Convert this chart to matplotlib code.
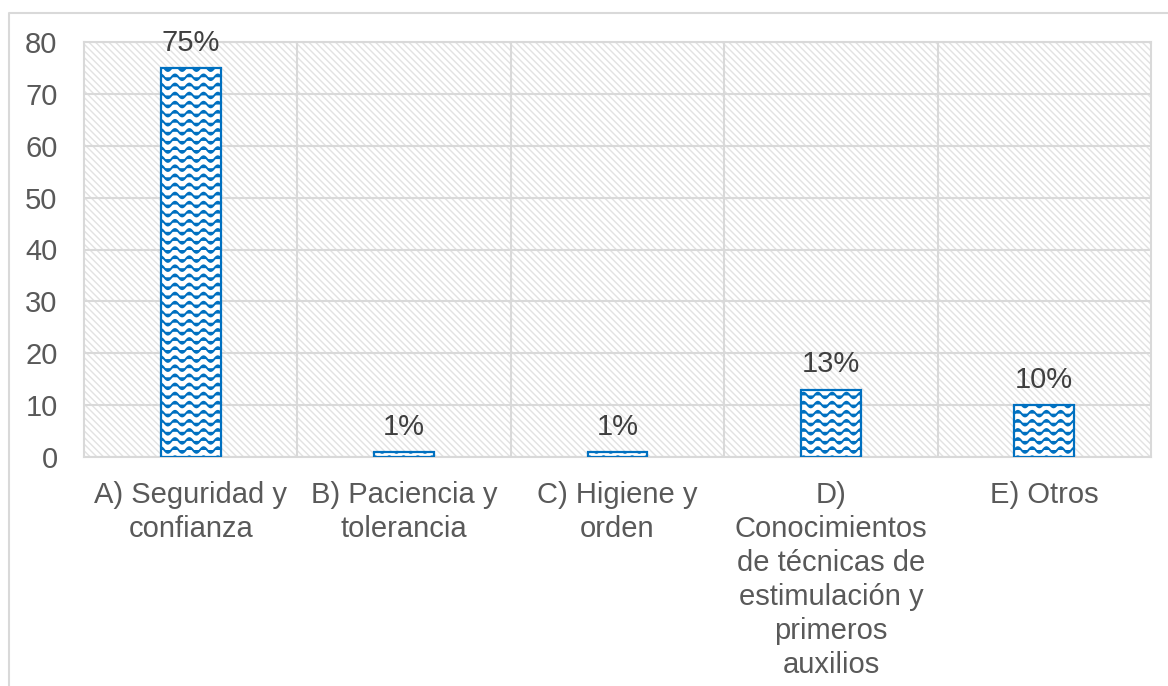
import warnings
import numpy as np
import matplotlib
matplotlib.use('Agg')
import matplotlib.pyplot as plt
import matplotlib.hatch as mhatch
from matplotlib.path import Path
from matplotlib.lines import Line2D

warnings.filterwarnings('ignore')

# data
categories = ['A) Seguridad y\nconfianza',
              'B) Paciencia y\ntolerancia',
              'C) Higiene y\norden',
              'D)\nConocimientos\nde técnicas de\nestimulación y\nprimeros\nauxilios',
              'E) Otros']
values = [75, 1, 1, 13, 10]
value_labels = ['75%', '1%', '1%', '13%', '10%']
y_ticks = [0, 10, 20, 30, 40, 50, 60, 70, 80]


# wavy hatch ('~') for the bars, rows of small sine waves
class WaveHatch(mhatch.HatchPatternBase):
    def __init__(self, hatch, density):
        self.num_rows = hatch.count('~') * 11
        self.num_waves = 7
        self.num_pts = self.num_waves * 16 + 1
        self.num_vertices = self.num_rows * self.num_pts

    def set_vertices_and_codes(self, vertices, codes):
        x = np.linspace(0.0, 1.0, self.num_pts)
        wave = 0.028 * np.sin(2 * np.pi * self.num_waves * x)
        for i in range(self.num_rows):
            start = i * self.num_pts
            seg = slice(start, start + self.num_pts)
            vertices[seg, 0] = x
            vertices[seg, 1] = (i + 0.5) / self.num_rows + wave
            codes[seg] = Path.LINETO
            codes[start] = Path.MOVETO


mhatch._hatch_types.append(WaveHatch)

plt.rcParams['font.family'] = ['Liberation Sans', 'DejaVu Sans']
plt.rcParams['hatch.linewidth'] = 1.0

grid_col = '#d9d9d9'
stripe_col = '#e2e2e2'
blue = '#0070c0'
fs = 21

fig = plt.figure(figsize=(11.68, 6.86), dpi=100)
ax = fig.add_axes([84 / 1168, 1 - 457 / 686, (1151 - 84) / 1168, (457 - 42) / 686])

# striped background of the plot area
ax.patch.set_facecolor('white')
ax.patch.set_edgecolor(stripe_col)
ax.patch.set_linewidth(0)
ax.patch.set_hatch('\\\\\\\\\\')

x = np.arange(len(categories))
bars = ax.bar(x, values, width=0.28, color='white', edgecolor=blue,
              linewidth=1.6, hatch='~', zorder=3)
for b in bars:
    if hasattr(b, 'set_hatch_linewidth'):
        b.set_hatch_linewidth(1.4)

for xi, v, lab in zip(x, values, value_labels):
    ax.annotate(lab, (xi, v), xytext=(0, 8), textcoords='offset points',
                ha='center', va='bottom', fontsize=fs, color='#404040')

ax.set_xlim(-0.5, len(categories) - 0.5)
ax.set_ylim(0, 80)
ax.set_yticks(y_ticks)
ax.set_xticks(x)
ax.set_xticklabels(categories, fontsize=fs, color='#595959', linespacing=1.28)
ax.set_xticks(np.arange(0.5, len(categories) - 0.5, 1.0), minor=True)
ax.tick_params(axis='y', labelsize=fs, labelcolor='#595959', length=0, pad=19)
ax.tick_params(axis='x', which='both', length=0, pad=17)

ax.grid(axis='y', color=grid_col, linewidth=1.5, zorder=0)
ax.grid(axis='x', which='minor', color=grid_col, linewidth=1.5, zorder=0)
ax.set_axisbelow(True)
for s in ax.spines.values():
    s.set_color(grid_col)
    s.set_linewidth(1.5)

# chart frame (left and top edges)
fig.add_artist(Line2D([9 / 1168, 9 / 1168, 1.0], [0.0, 1 - 13 / 686, 1 - 13 / 686],
                      transform=fig.transFigure, color=grid_col, linewidth=1.5))

fig.savefig('out.png', dpi=100)
